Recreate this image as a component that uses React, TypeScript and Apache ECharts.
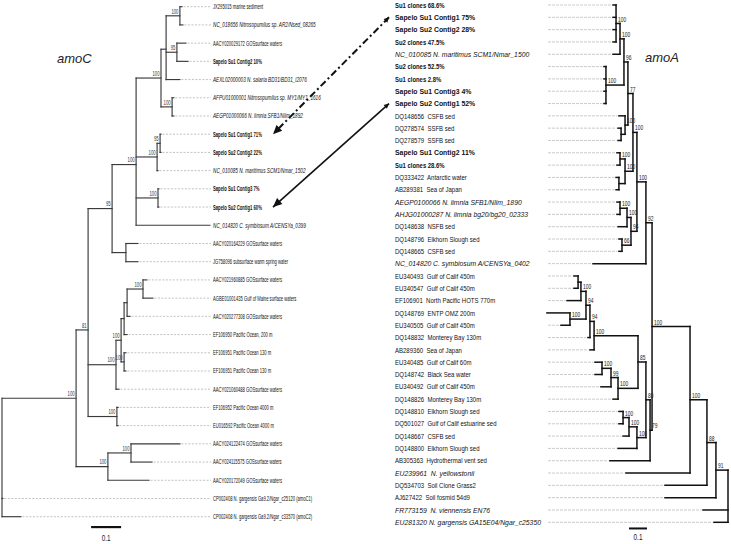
import React, { useEffect, useRef } from "react";
import * as echarts from "echarts";

// ---------------- amoC (left tree) ----------------
const amoCLeaves = [
  "JX295015 marine sediment",
  "NC_018656 Nitrosopumilus sp. AR2/Nsed_08265",
  "AACY020029172 GOSsurface waters",
  "Sapelo Su1 Contig2 10%",
  "AEXL02000003 N. salaria BD31/BD31_l2076",
  "AFPU01000001 Nitrosopumilus sp. MY1/MY1_1616",
  "AEGP01000066 N. limnia SFB1/Nlim_1892",
  "Sapelo Su1 Contig1 71%",
  "Sapelo Su2 Contig2 22%",
  "NC_010085 N. maritimus SCM1/Nmar_1502",
  "Sapelo Su1 Contig3 7%",
  "Sapelo Su2 Contig1 60%",
  "NC_014820 C. symbiosum A/CENSYa_0399",
  "AACY020164229 GOSsurface waters",
  "JG758096 subsurface warm spring water",
  "AACY021960885 GOSsurface waters",
  "AGBE01001435 Gulf of Maine surface waters",
  "AACY020277308 GOSsurface waters",
  "EF106950 Pacific Ocean, 200 m",
  "EF106951 Pacific Ocean 130 m",
  "EF106951 Pacific Ocean 130 m",
  "AACY021060488 GOSsurface waters",
  "EF106952 Pacific Ocean 4000 m",
  "EU016592 Pacific Ocean 4000 m",
  "AACY024122474 GOSsurface waters",
  "AACY024115575 GOSsurface waters",
  "AACY020172049 GOSsurface waters",
  "CP002408 N. gargensis Ga9.2/Ngar_c25120 (amoC1)",
  "CP002408 N. gargensis Ga9.2/Ngar_c33570 (amoC2)",
];
const amoCKinds = ["n","i","n","b","i","i","i","b","b","i","b","b","i","n","n","n","n","n","n","n","n","n","n","n","n","n","n","n","n"];
const amoCTipDepth = [0.600,0.603,0.613,0.620,0.593,0.573,0.573,0.530,0.530,0.520,0.523,0.523,0.693,0.453,0.453,0.483,0.503,0.427,0.417,0.413,0.413,0.390,0.387,0.387,0.593,0.500,0.490,0.003,0.063];
// [node id, depth from root, bootstrap, children (number = leaf row, string = node id)]
const amoCNodes: [string, number, string, (number | string)[]][] = [
  ["n12", 0.593, "100", [0, 1]],
  ["n34", 0.583, "95", [2, 3]],
  ["P", 0.547, "", ["n12", "n34", 4]],
  ["n67", 0.567, "100", [5, 6]],
  ["Q", 0.530, "100", ["P", "n67"]],
  ["n89", 0.527, "95", [7, 8]],
  ["S", 0.517, "100", ["n89", 9]],
  ["n1112", 0.520, "100", [10, 11]],
  ["T", 0.447, "100", ["Q", "S", "n1112", 12]],
  ["U", 0.413, "", [13, 14]],
  ["V", 0.367, "95", ["T", "U"]],
  ["n1617", 0.470, "100", [15, 16]],
  ["X1", 0.417, "", ["n1617", 17]],
  ["X2", 0.407, "", ["X1", 18]],
  ["n2021", 0.407, "100", [19, 20]],
  ["X3", 0.397, "100", ["X2", "n2021"]],
  ["X", 0.380, "100", ["X3", 21]],
  ["Yb", 0.383, "100", [22, 23]],
  ["W", 0.287, "81", ["V", "X", "Yb"]],
  ["Y3", 0.430, "100", [24, 25]],
  ["Y2", 0.353, "100", ["Y3", 26]],
  ["Z", 0.247, "100", ["W", "Y2"]],
  ["root", 0, "", ["Z", 27, 28]],
];
const amoCScaleBar = [0.297, 28.57, 0.1];

// ---------------- amoA (right tree) ----------------
const amoALeaves = [
  "Su1 clones 68.6%",
  "Sapelo Su1 Contig1 75%",
  "Sapelo Su2 Contig2 28%",
  "Su2 clones 47.5%",
  "NC_010085 N. maritimus SCM1/Nmar_1500",
  "Su2 clones 52.5%",
  "Su1 clones 2.8%",
  "Sapelo Su1 Contig3 4%",
  "Sapelo Su2 Contig1 52%",
  "DQ148656  CSFB sed",
  "DQ278574  SSFB sed",
  "DQ278579  SSFB sed",
  "Sapelo Su1 Contig2 11%",
  "Su1 clones 28.6%",
  "DQ333422  Antarctic water",
  "AB289381  Sea of Japan",
  "AEGP0100066 N. limnia SFB1/Nlim_1890",
  "AHJG01000287 N. limnia bg20/bg20_02333",
  "DQ148638  NSFB sed",
  "DQ148796  Elkhorn Slough sed",
  "DQ148665  CSFB sed",
  "NC_014820 C. symbiosum A/CENSYa_0402",
  "EU340493  Gulf of Calif 450m",
  "EU340547  Gulf of Calif 450m",
  "EF106901  North Pacific HOTS 770m",
  "DQ148769  ENTP OMZ 200m",
  "EU340505  Gulf of Calif 450m",
  "DQ148832  Monterey Bay 130m",
  "AB289360  Sea of Japan",
  "EU340485  Gulf of Calif 60m",
  "DQ148742  Black Sea water",
  "EU340492  Gulf of Calif 450m",
  "DQ148826  Monterey Bay 130m",
  "DQ148810  Elkhorn Slough sed",
  "DQ501027  Gulf of Calif estuarine sed",
  "DQ148667  CSFB sed",
  "DQ148800  Elkhorn Slough sed",
  "AB305363  Hydrothermal vent sed",
  "EU239961  N. yellowstonii",
  "DQ534703  Soil Clone Grass2",
  "AJ627422  Soil fosmid 54d9",
  "FR773159  N. viennensis EN76",
  "EU281320 N. gargensis GA15E04/Ngar_c25350",
];
const amoAKinds = ["s","B","B","s","I","s","s","B","B","n","n","n","B","s","n","n","I","I","n","n","n","I","n","n","n","n","n","n","n","n","n","n","n","n","n","n","n","n","I","n","n","I","I"];
const amoATipDepth = [
  0.639,0.639,0.639,0.639,0.639,
  0.689,0.689,0.689,0.689,
  0.606,0.611,0.611,
  0.617,0.617,0.622,0.622,
  0.617,0.617,0.611,0.606,0.606,
  0.750,
  0.856,0.856,0.894,1.006,0.928,
  0.778,0.767,
  0.739,0.739,0.706,0.639,
  0.606,0.606,0.583,0.611,
  0.656,0.567,0.350,0.350,0.139,0.078,
];
const amoANodes: [string, number, string, (number | string)[]][] = [
  ["A", 0.622, "100", [0, 1, 2, 3]],
  ["B", 0.600, "100", ["A", 4]],
  ["C", 0.678, "100", [5, 6, 7, 8]],
  ["D", 0.578, "96", ["B", "C"]],
  ["G", 0.594, "", [10, 11]],
  ["F", 0.572, "100", [9, "G"]],
  ["E", 0.556, "77", ["D", "F"]],
  ["H1", 0.600, "100", [12, 13]],
  ["H2", 0.606, "", [14, 15]],
  ["H", 0.572, "100", ["H1", "H2"]],
  ["K", 0.528, "100", ["E", "H"]],
  ["M1", 0.600, "100", [16, 17]],
  ["M2", 0.561, "100", ["M1", 18]],
  ["M3", 0.589, "66", [19, 20]],
  ["M4", 0.539, "94", ["M2", "M3"]],
  ["M", 0.506, "100", ["K", "M4"]],
  ["N92", 0.456, "92", ["M", 21]],
  ["n2324", 0.833, "", [22, 23]],
  ["N2325", 0.817, "100", ["n2324", 24]],
  ["n2627", 0.878, "100", [25, 26]],
  ["N94a", 0.789, "94", ["N2325", "n2627"]],
  ["N94b", 0.767, "94", ["N94a", 27]],
  ["N100c", 0.744, "100", ["N94b", 28]],
  ["n3031", 0.700, "100", [29, 30]],
  ["N99", 0.650, "99", ["n3031", 31]],
  ["N100d", 0.611, "100", ["N99", 32]],
  ["N85", 0.500, "85", ["N100c", "N100d"]],
  ["n3435", 0.583, "100", [33, 34]],
  ["N100e", 0.550, "100", ["n3435", 35]],
  ["N100f", 0.506, "100", ["N100e", 36]],
  ["N80", 0.456, "80", ["N85", "N100f"]],
  ["N79", 0.433, "79", ["N80", 37]],
  ["N100g", 0.422, "100", ["N92", "N79"]],
  ["N100h", 0.211, "100", ["N100g", 38]],
  ["N88", 0.117, "88", ["N100h", 39]],
  ["N91", 0.067, "91", ["N88", 40]],
  ["root", 0, "", ["N91", 41, 42]],
];
const amoAScaleBar = [0.45, 42.5, 0.1];

// arrows: [amoA leaf row, amoC leaf row, dashed]
const links: [number, number, boolean][] = [
  [1, 7, true],
  [8, 11, false],
];

// ---------------- helpers ----------------
const FONT = "'Liberation Sans', Arial, sans-serif";
const leftKind: Record<string, any> = {
  n: { fontSize: 7, fontWeight: "normal", fontStyle: "normal", sx: 0.59 },
  i: { fontSize: 7, fontWeight: "normal", fontStyle: "italic", sx: 0.67 },
  b: { fontSize: 7.5, fontWeight: "bold", fontStyle: "normal", sx: 0.56 },
};
const rightKind: Record<string, any> = {
  n: { fontSize: 7, fontWeight: "normal", fontStyle: "normal", sx: 0.86 },
  s: { fontSize: 6.8, fontWeight: "bold", fontStyle: "normal", sx: 0.87 },
  B: { fontSize: 8, fontWeight: "bold", fontStyle: "normal", sx: 0.86 },
  I: { fontSize: 8, fontWeight: "normal", fontStyle: "italic", sx: 0.85 },
};

function layoutTree(tip: number[], nodes: [string, number, string, (number | string)[]][]) {
  const pos: Record<string, { d: number; y: number }> = {};
  const get = (c: number | string) => (typeof c === "number" ? { d: tip[c], y: c } : pos[c]);
  const segs: number[][] = [];
  const boots: { d: number; y: number; t: string }[] = [];
  for (const [id, d, bs, ch] of nodes) {
    const cs = ch.map(get);
    const y = cs.reduce((s, c) => s + c.y, 0) / cs.length;
    pos[id] = { d, y };
    const ys = cs.map((c) => c.y);
    segs.push([d, Math.min(...ys), d, Math.max(...ys)]);
    cs.forEach((c) => segs.push([d, c.y, c.d, c.y]));
    if (bs) boots.push({ d, y, t: bs });
  }
  return { segs, boots };
}

const LEFT_MAX = 211 / 300;
const RIGHT_MAX = 183 / 180;

export default function App() {
  const ref = useRef<HTMLDivElement>(null);
  useEffect(() => {
    if (!ref.current) return;
    const chart = echarts.init(ref.current, undefined, { renderer: "svg" });
    const L = layoutTree(amoCTipDepth, amoCNodes);
    const R = layoutTree(amoATipDepth, amoANodes);

    const branchSeries = (idx: number, segs: number[][], color: string, lw: number) => ({
      type: "custom",
      xAxisIndex: idx,
      yAxisIndex: idx,
      silent: true,
      clip: false,
      encode: { x: 0, y: 1 },
      data: segs,
      renderItem: (params: any, api: any) => {
        const a = api.coord([api.value(0), api.value(1)]);
        const b = api.coord([api.value(2), api.value(3)]);
        return {
          type: "line",
          shape: { x1: a[0], y1: a[1], x2: b[0], y2: b[1] },
          style: { stroke: color, lineWidth: lw, lineCap: "square" },
        };
      },
    });

    const leafSeries = (idx: number, names: string[], kinds: string[], tips: number[]) => ({
      type: "custom",
      xAxisIndex: idx,
      yAxisIndex: idx,
      silent: true,
      clip: false,
      encode: { x: 0, y: 1 },
      data: tips.map((t, i) => [t, i]),
      renderItem: (params: any, api: any) => {
        const i = params.dataIndex;
        const p = api.coord([api.value(0), api.value(1)]);
        const cs = params.coordSys;
        const children: any[] = [];
        if (idx === 0) {
          const k = leftKind[kinds[i]];
          const lx = cs.x + cs.width;
          children.push({
            type: "line",
            shape: { x1: p[0] + 1.5, y1: p[1], x2: lx - 2, y2: p[1] },
            style: { stroke: "#a8a8a8", lineWidth: 0.7, lineDash: [2, 1.5] },
          });
          children.push({
            type: "text",
            x: lx,
            y: p[1],
            scaleX: k.sx,
            style: {
              text: names[i], fill: "#111", fontFamily: FONT, fontSize: k.fontSize,
              fontWeight: k.fontWeight, fontStyle: k.fontStyle, align: "left", verticalAlign: "middle",
            },
          });
        } else {
          const k = rightKind[kinds[i]];
          const lx = cs.x - 150;
          const sx = cs.x + 3;
          if (p[0] - 1.5 > sx)
            children.push({
              type: "line",
              shape: { x1: sx, y1: p[1], x2: p[0] - 1.5, y2: p[1] },
              style: { stroke: "#b4b4b4", lineWidth: 0.7, lineDash: [3, 1] },
            });
          children.push({
            type: "text",
            x: lx,
            y: p[1],
            scaleX: k.sx,
            style: {
              text: names[i], fill: "#111", fontFamily: FONT, fontSize: k.fontSize,
              fontWeight: k.fontWeight, fontStyle: k.fontStyle, align: "left", verticalAlign: "middle",
            },
          });
        }
        return { type: "group", children };
      },
    });

    const bootSeries = (idx: number, boots: { d: number; y: number; t: string }[]) => ({
      type: "custom",
      xAxisIndex: idx,
      yAxisIndex: idx,
      silent: true,
      clip: false,
      encode: { x: 0, y: 1 },
      data: boots.map((b) => [b.d, b.y]),
      renderItem: (params: any, api: any) => {
        const p = api.coord([api.value(0), api.value(1)]);
        const t = boots[params.dataIndex].t;
        if (idx === 0)
          return {
            type: "text", x: p[0] - 1.5, y: p[1] - 1.2, scaleX: 0.6,
            style: { text: t, fill: "#333", fontFamily: FONT, fontSize: 7, align: "right", verticalAlign: "bottom" },
          };
        return {
          type: "text", x: p[0] + 2, y: p[1] - 1.2, scaleX: 0.78,
          style: { text: t, fill: "#222", fontFamily: FONT, fontSize: 6.3, align: "left", verticalAlign: "bottom" },
        };
      },
    });

    const scaleSeries = (idx: number, bar: number[], lw: number, gap: number) => ({
      type: "custom",
      xAxisIndex: idx,
      yAxisIndex: idx,
      silent: true,
      clip: false,
      encode: { x: 0, y: 1 },
      data: [[bar[0], bar[1], bar[0] + bar[2]]],
      renderItem: (params: any, api: any) => {
        const a = api.coord([api.value(0), api.value(1)]);
        const b = api.coord([api.value(2), api.value(1)]);
        return {
          type: "group",
          children: [
            { type: "line", shape: { x1: a[0], y1: a[1], x2: b[0], y2: b[1] }, style: { stroke: "#111", lineWidth: lw } },
            {
              type: "text", x: (a[0] + b[0]) / 2, y: a[1] + gap, scaleX: 0.75,
              style: { text: String(bar[2]), fill: "#222", fontFamily: FONT, fontSize: 8.5, align: "center", verticalAlign: "middle" },
            },
          ],
        };
      },
    });

    chart.setOption({
      animation: false,
      backgroundColor: "#ffffff",
      grid: [
        { left: 2, top: 6.7, width: 211, height: 510 },
        { left: 545, top: 5, width: 183, height: 517.3 },
      ],
      xAxis: [
        { type: "value", gridIndex: 0, min: 0, max: LEFT_MAX, show: false },
        { type: "value", gridIndex: 1, min: 0, max: RIGHT_MAX, inverse: true, show: false },
      ],
      yAxis: [
        { type: "value", gridIndex: 0, min: 0, max: 28, inverse: true, show: false },
        { type: "value", gridIndex: 1, min: 0, max: 42, inverse: true, show: false },
      ],
      series: [
        branchSeries(0, L.segs, "#3a3a3a", 1.15),
        leafSeries(0, amoCLeaves, amoCKinds, amoCTipDepth),
        bootSeries(0, L.boots),
        scaleSeries(0, amoCScaleBar, 2.2, 11),
        branchSeries(1, R.segs, "#111", 1.5),
        leafSeries(1, amoALeaves, amoAKinds, amoATipDepth),
        bootSeries(1, R.boots),
        scaleSeries(1, amoAScaleBar, 2, 9),
      ],
    });

    // annotations: tree titles and arrows between matching contigs
    const leftLabelX = chart.convertToPixel({ gridIndex: 0 } as any, [LEFT_MAX, 0])[0];
    const rightLabelX = chart.convertToPixel({ gridIndex: 1 } as any, [RIGHT_MAX, 0])[0] - 150;
    const head = (tx: number, ty: number, ox: number, oy: number, len: number, hw: number) => {
      const dx = tx - ox, dy = ty - oy;
      const n = Math.hypot(dx, dy);
      const ux = dx / n, uy = dy / n;
      const bx = tx - ux * len, by = ty - uy * len;
      return {
        type: "polygon",
        shape: { points: [[tx, ty], [bx - uy * hw, by + ux * hw], [bx + uy * hw, by - ux * hw]] },
        style: { fill: "#111" },
        silent: true,
      };
    };
    const graphics: any[] = [
      { type: "text", x: 57, y: 58, style: { text: "amoC", fontFamily: FONT, fontStyle: "italic", fontSize: 13, fill: "#222", verticalAlign: "middle" } },
      { type: "text", x: 645, y: 57, style: { text: "amoA", fontFamily: FONT, fontStyle: "italic", fontSize: 13, fill: "#222", verticalAlign: "middle" } },
    ];
    links.forEach(([r, l, dashed]) => {
      const ry = chart.convertToPixel({ gridIndex: 1 } as any, [0, r])[1];
      const ly = chart.convertToPixel({ gridIndex: 0 } as any, [0, l])[1];
      const x1 = rightLabelX - 6, x2 = leftLabelX + 60;
      graphics.push({
        type: "line",
        silent: true,
        shape: { x1, y1: ry, x2, y2: ly },
        style: { stroke: "#111", lineWidth: dashed ? 2 : 1.6, lineDash: dashed ? [7, 3, 2, 3] : undefined },
      });
      graphics.push(head(x2, ly, x1, ry, 9, 4));
      graphics.push(head(x1, ry, x2, ly, 5, 2.5));
    });
    chart.setOption({ graphic: graphics });

    return () => chart.dispose();
  }, []);
  return (
    <div
      ref={ref}
      style={{ position: "absolute", left: 0, top: 0, width: 731, height: 544, background: "#fff" }}
    />
  );
}
